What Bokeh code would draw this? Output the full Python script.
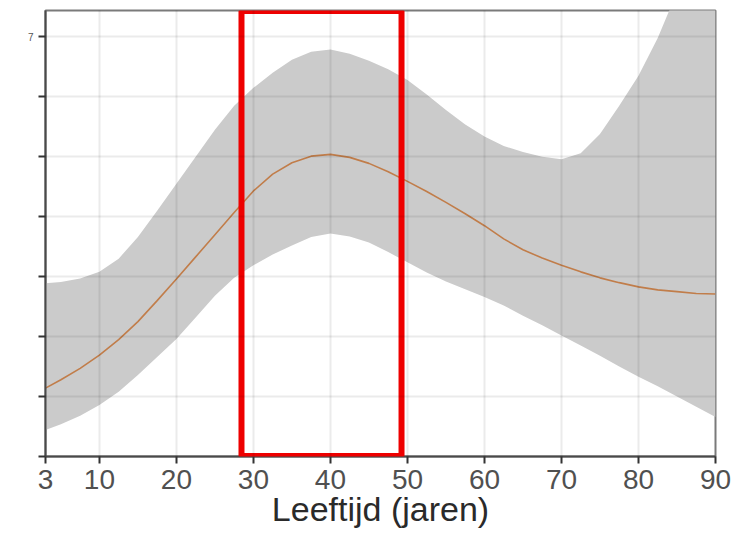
from bokeh.plotting import figure
from bokeh.models import Range1d, FixedTicker, BoxAnnotation
from bokeh.embed import file_html
from bokeh.resources import INLINE

# data
age = [3, 5, 7.5, 10, 12.5, 15, 17.5, 20, 22.5, 25, 27.5, 30, 32.5, 35, 37.5, 40, 42.5, 45,
       47.5, 50, 52.5, 55, 57.5, 60, 62.5, 65, 67.5, 70, 72.5, 75, 77.5, 80, 82.5, 85, 87.5, 90]
center = [1.14, 1.28, 1.47, 1.69, 1.95, 2.25, 2.60, 2.96, 3.33, 3.70, 4.07, 4.43, 4.71, 4.90, 5.01, 5.04, 4.99, 4.89,
          4.75, 4.59, 4.42, 4.24, 4.05, 3.85, 3.63, 3.45, 3.31, 3.19, 3.08, 2.98, 2.90, 2.83, 2.78, 2.75, 2.72, 2.71]
upper = [2.89, 2.91, 2.97, 3.08, 3.30, 3.66, 4.10, 4.55, 5.00, 5.45, 5.85, 6.15, 6.40, 6.62, 6.75, 6.79, 6.72, 6.60,
         6.46, 6.28, 6.04, 5.78, 5.54, 5.34, 5.18, 5.08, 5.00, 4.96, 5.06, 5.38, 5.85, 6.35, 6.98, 7.75, 8.60, 9.50]
lower = [0.44, 0.54, 0.68, 0.86, 1.08, 1.36, 1.66, 1.96, 2.32, 2.68, 2.98, 3.19, 3.37, 3.52, 3.66, 3.72, 3.67, 3.57,
         3.41, 3.24, 3.07, 2.92, 2.79, 2.66, 2.52, 2.35, 2.19, 2.02, 1.85, 1.68, 1.50, 1.33, 1.17, 1.00, 0.83, 0.66]
x_ticks = [3, 10, 20, 30, 40, 50, 60, 70, 80, 90]
y_ticks = [0, 1, 2, 3, 4, 5, 6, 7]
highlight_start, highlight_end = 28.45, 49.23
highlight_bottom, highlight_top = 0.01, 7.43
x_label = "Leeftijd (jaren)"

p = figure(width=733, height=537, output_backend="svg", toolbar_location=None,
           x_range=Range1d(3, 90), y_range=Range1d(0, 7.44),
           min_border_left=45, min_border_right=18, min_border_top=10, min_border_bottom=81)

p.varea(x=age, y1=lower, y2=upper, fill_color="#cbcbcb", fill_alpha=1.0)
p.line(x=age, y=center, line_color="#c17d4a", line_width=1.6)

box = BoxAnnotation(left=highlight_start, right=highlight_end, bottom=highlight_bottom, top=highlight_top,
                    fill_alpha=0, line_color="#ee0000", line_width=6, line_alpha=1.0)
p.add_layout(box)

p.xaxis.ticker = FixedTicker(ticks=x_ticks)
p.yaxis.ticker = FixedTicker(ticks=y_ticks)
p.yaxis.major_label_overrides = {t: "" for t in y_ticks[:-1]}
p.yaxis.major_label_text_font_size = "10px"
p.yaxis.major_label_text_color = "#555555"

for ax in (p.xaxis, p.yaxis):
    ax.axis_line_color = "#4a4a4a"
    ax.axis_line_width = 2
    ax.major_tick_line_color = "#333333"
    ax.major_tick_line_width = 2
    ax.major_tick_out = 7
    ax.major_tick_in = 0
    ax.minor_tick_line_color = None

p.xaxis.major_label_text_font = "Liberation Sans"
p.xaxis.major_label_text_font_size = "28px"
p.xaxis.major_label_text_color = "#505050"
p.xaxis.major_label_standoff = 6
p.xaxis.axis_label = x_label
p.xaxis.axis_label_text_font = "Liberation Sans"
p.xaxis.axis_label_text_font_size = "34px"
p.xaxis.axis_label_text_font_style = "normal"
p.xaxis.axis_label_text_color = "#2a2a2a"
p.xaxis.axis_label_standoff = -2

p.grid.level = "overlay"
p.grid.grid_line_color = "#000000"
p.grid.grid_line_alpha = 0.08
p.grid.grid_line_width = 2

p.outline_line_color = "#7a7a7a"
p.outline_line_width = 2

open("out.html", "w").write(file_html(p, INLINE))
